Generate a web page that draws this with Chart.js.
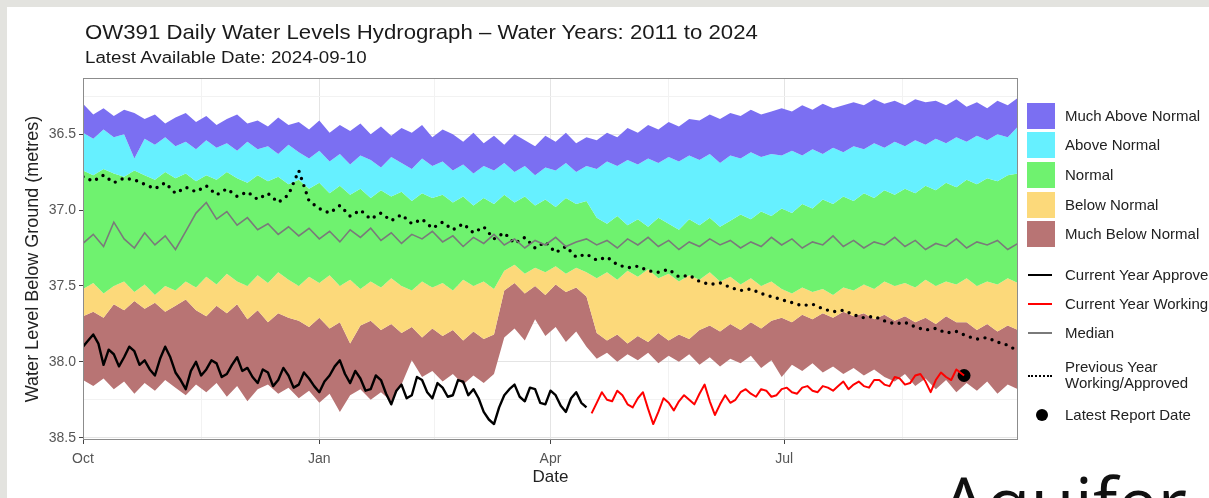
<!DOCTYPE html>
<html lang="en">
<head>
<meta charset="UTF-8">
<title>OW391 Daily Water Levels Hydrograph</title>
<script src="https://cdn.jsdelivr.net/npm/chart.js"></script>
<style>
  body { margin: 0; width: 1209px; height: 498px; overflow: hidden; background: #fff; position: relative;
         font-family: "Liberation Sans", Arial, sans-serif; color: #1a1a1a; }
  .edge-top { position: absolute; left: 0; top: 0; width: 1209px; height: 7px; background: #e3e3df; }
  .edge-left { position: absolute; left: 0; top: 0; width: 7px; height: 498px; background: #e3e3df; }
  #chart { position: absolute; left: 0; top: 0; }
  .title { position: absolute; left: 85px; top: 20px; font-size: 21px; line-height: 24px; white-space: nowrap;
           transform: scaleX(1.057); transform-origin: left top; }
  .subtitle { position: absolute; left: 85px; top: 49px; font-size: 16px; line-height: 18px; white-space: nowrap;
              transform: scaleX(1.17); transform-origin: left top; }
  .key { position: absolute; }
  .lab { position: absolute; left: 1065px; font-size: 15px; line-height: 16px; white-space: nowrap; color: #222; }
  .aquifer { position: absolute; left: 941px; top: 465px; font-family: "Open Sans", sans-serif; font-size: 72px;
             line-height: 72px; color: #111; white-space: nowrap; }
</style>
</head>
<body>
<div class="edge-top"></div>
<div class="edge-left"></div>
<canvas id="chart" width="1209" height="498"></canvas>

<div class="title">OW391 Daily Water Levels Hydrograph – Water Years: 2011 to 2024</div>
<div class="subtitle">Latest Available Date: 2024-09-10</div>

<div class="key" style="left:1027px;top:103px;width:28px;height:26px;background:#7b6ff2"></div>
<div class="key" style="left:1027px;top:132px;width:28px;height:26px;background:#66f0ff"></div>
<div class="key" style="left:1027px;top:162px;width:28px;height:26px;background:#6ff26f"></div>
<div class="key" style="left:1027px;top:192px;width:28px;height:26px;background:#fcd97a"></div>
<div class="key" style="left:1027px;top:221px;width:28px;height:26px;background:#b87474"></div>
<div class="lab" style="top:108px">Much Above Normal</div>
<div class="lab" style="top:137px">Above Normal</div>
<div class="lab" style="top:167px">Normal</div>
<div class="lab" style="top:197px">Below Normal</div>
<div class="lab" style="top:226px">Much Below Normal</div>

<div class="key" style="left:1028px;top:274px;width:24px;height:2px;background:#000"></div>
<div class="key" style="left:1028px;top:303px;width:24px;height:2px;background:#f00"></div>
<div class="key" style="left:1028px;top:332px;width:24px;height:2px;background:#7a7a7a"></div>
<div class="key" style="left:1028px;top:375px;width:24px;height:2px;border-top:2px dotted #000"></div>
<div class="key" style="left:1036px;top:409px;width:12px;height:12px;border-radius:50%;background:#000"></div>
<div class="lab" style="top:267px">Current Year Approved</div>
<div class="lab" style="top:296px">Current Year Working</div>
<div class="lab" style="top:325px">Median</div>
<div class="lab" style="top:359px">Previous Year</div>
<div class="lab" style="top:375px">Working/Approved</div>
<div class="lab" style="top:407px">Latest Report Date</div>

<div class="aquifer">Aquifer</div>

<script>
// day of water year (0 = Oct 1)
const days = [0,4,8,12,16,20,24,28,32,36,40,44,48,52,56,60,64,68,72,76,80,84,88,92,96,100,104,108,112,116,
  120,124,128,132,136,140,144,148,152,156,160,164,168,172,176,180,184,188,192,196,200,204,208,212,216,220,224,
  228,232,236,240,244,248,252,256,260,264,268,272,276,280,284,288,292,296,300,304,308,312,316,320,324,328,332,
  336,340,344,348,352,356,360,364];

// band edges, metres below ground (min -> max)
const bandMin = [36.30,36.37,36.33,36.38,36.34,36.36,36.40,36.37,36.43,36.39,36.36,36.42,36.38,36.44,36.40,36.37,
  36.43,36.41,36.45,36.39,36.44,36.42,36.47,36.41,36.49,36.44,36.48,36.43,36.50,36.45,36.51,36.46,36.49,36.44,36.52,
  36.47,36.50,36.55,36.49,36.56,36.51,36.57,36.50,36.54,36.58,36.51,36.55,36.49,36.56,36.52,36.54,36.49,36.52,36.46,
  36.49,36.44,36.47,36.42,36.45,36.40,36.41,36.37,36.40,36.36,36.38,36.34,36.37,36.35,36.33,36.35,36.31,36.34,36.30,
  36.33,36.31,36.29,36.31,36.27,36.30,36.28,36.31,36.27,36.29,36.28,36.31,36.27,36.32,36.29,36.33,36.28,36.31,36.26];
const bandP10 = [36.49,36.53,36.47,36.52,36.50,36.66,36.53,36.57,36.52,36.58,36.55,36.60,36.54,36.59,36.56,36.61,
  36.55,36.60,36.58,36.63,36.57,36.62,36.66,36.61,36.68,36.63,36.70,36.64,36.67,36.72,36.65,36.69,36.73,36.66,36.71,
  36.68,36.74,36.70,36.76,36.71,36.74,36.69,36.75,36.71,36.77,36.72,36.74,36.69,36.75,36.71,36.73,36.68,36.71,36.67,
  36.70,36.66,36.69,36.65,36.68,36.64,36.67,36.63,36.69,36.64,36.66,36.62,36.65,36.63,36.64,36.61,36.64,36.60,36.63,
  36.59,36.62,36.58,36.60,36.56,36.59,36.55,36.58,36.54,36.57,36.53,36.56,36.52,36.55,36.51,36.54,36.50,36.52,36.45];
const bandP25 = [36.74,36.77,36.73,36.76,36.78,36.74,36.77,36.80,36.75,36.79,36.76,36.81,36.77,36.80,36.75,36.79,
  36.82,36.77,36.81,36.78,36.83,36.80,36.86,36.82,36.89,36.84,36.90,36.86,36.92,36.87,36.91,36.88,36.94,36.89,36.92,
  36.90,36.95,36.91,36.97,36.92,36.96,36.90,36.95,36.91,36.97,36.93,36.98,36.92,36.96,36.94,37.05,37.09,37.04,37.10,
  37.06,37.11,37.05,37.09,37.13,37.06,37.10,37.05,37.11,37.07,37.03,37.06,37.01,37.04,36.99,37.02,36.96,36.99,36.93,
  36.96,36.91,36.94,36.89,36.92,36.87,36.90,36.86,36.89,36.84,36.87,36.82,36.85,36.80,36.83,36.79,36.81,36.77,36.76];
const bandP75 = [37.52,37.48,37.55,37.50,37.47,37.54,37.49,37.56,37.50,37.53,37.47,37.51,37.44,37.49,37.42,37.47,
  37.50,37.43,37.48,37.41,37.46,37.50,37.44,37.48,37.43,37.50,37.46,37.52,37.47,37.51,37.45,37.50,37.53,37.47,37.51,
  37.48,37.53,37.46,37.50,37.47,37.52,37.40,37.36,37.42,37.38,37.41,37.37,37.42,37.38,37.41,37.45,37.41,37.46,37.40,
  37.44,37.39,37.45,37.42,37.47,37.43,37.46,37.41,37.47,37.44,37.49,37.45,37.50,37.47,37.52,37.55,37.51,37.54,37.52,
  37.56,37.51,37.53,37.49,37.52,37.47,37.50,37.48,37.51,37.46,37.50,37.47,37.49,37.45,37.50,37.47,37.49,37.45,37.48];
const bandP90 = [37.70,37.67,37.71,37.62,37.66,37.60,37.65,37.61,37.67,37.63,37.59,37.66,37.70,37.63,37.68,37.62,
  37.72,37.66,37.74,37.68,37.71,37.73,37.77,37.71,37.78,37.74,37.88,37.76,37.73,37.79,37.75,37.81,37.77,37.84,37.78,
  37.83,37.79,37.86,37.80,37.85,37.82,37.53,37.48,37.55,37.50,37.56,37.49,37.54,37.51,37.57,37.81,37.86,37.82,37.88,
  37.83,37.87,37.81,37.86,37.82,37.85,37.79,37.76,37.80,37.75,37.79,37.74,37.78,37.73,37.71,37.74,37.69,37.72,37.68,
  37.71,37.67,37.70,37.68,37.72,37.69,37.73,37.70,37.74,37.71,37.75,37.70,37.74,37.74,37.79,37.75,37.80,37.76,37.79];
const bandMax = [38.12,38.16,38.11,38.18,38.13,38.21,38.14,38.19,38.12,38.17,38.22,38.15,38.20,38.14,38.23,38.16,
  38.26,38.18,38.15,38.21,38.17,38.24,38.19,38.27,38.21,38.33,38.22,38.18,38.25,38.20,38.26,38.15,37.99,38.10,38.06,
  38.13,38.08,38.15,38.09,38.14,38.08,37.84,37.78,37.86,37.72,37.83,37.77,37.87,37.80,37.90,37.98,37.94,38.00,37.95,
  37.99,37.94,38.01,37.96,38.00,37.95,38.02,37.97,38.03,37.98,38.01,37.96,38.04,37.99,38.10,38.02,38.06,38.01,38.07,
  38.03,38.08,38.04,38.09,38.05,38.10,38.13,38.08,38.16,38.11,38.18,38.12,38.20,38.14,38.19,38.13,38.21,38.15,38.18];

const medianLevel = [37.22,37.16,37.24,37.08,37.19,37.25,37.15,37.23,37.17,37.26,37.14,37.02,36.95,37.06,37.01,37.10,
  37.05,37.13,37.09,37.16,37.11,37.17,37.12,37.19,37.14,37.21,37.13,37.18,37.12,37.20,37.15,37.22,37.16,37.19,37.14,
  37.21,37.17,37.24,37.18,37.22,37.16,37.23,37.19,37.25,37.20,37.23,37.18,37.24,37.21,37.19,37.23,37.20,37.25,37.19,
  37.23,37.18,37.24,37.20,37.26,37.21,37.24,37.19,37.23,37.20,37.25,37.21,37.24,37.18,37.23,37.19,37.25,37.21,37.23,
  37.17,37.24,37.20,37.25,37.21,37.23,37.18,37.24,37.20,37.26,37.22,37.24,37.19,37.25,37.21,37.23,37.20,37.26,37.22];
const previousYear = [36.78,36.81,36.77,36.82,36.79,36.80,36.83,36.86,36.82,36.89,36.85,36.88,36.84,36.90,36.86,36.91,
  36.88,36.93,36.89,36.95,36.90,36.74,36.94,36.99,37.02,36.97,37.04,37.00,37.06,37.02,37.07,37.03,37.09,37.06,37.12,
  37.08,37.13,37.09,37.15,37.11,37.19,37.15,37.22,37.18,37.25,37.21,37.28,37.24,37.31,37.29,37.33,37.31,37.36,37.38,
  37.37,37.40,37.41,37.39,37.44,37.43,37.47,37.49,37.48,37.51,37.53,37.52,37.55,37.57,37.59,37.61,37.63,37.62,37.65,
  37.67,37.66,37.69,37.71,37.70,37.73,37.75,37.74,37.77,37.79,37.78,37.81,37.80,37.83,37.85,37.84,37.87,37.89,37.93];

// current water year, every second day
const approvedDays = [0,2,4,6,8,10,12,14,16,18,20,22,24,26,28,30,32,34,36,38,40,42,44,46,48,50,52,54,56,58,
  60,62,64,66,68,70,72,74,76,78,80,82,84,86,88,90,92,94,96,98,100,102,104,106,108,110,112,114,116,118,
  120,122,124,126,128,130,132,134,136,138,140,142,144,146,148,150,152,154,156,158,160,162,164,166,168,170,
  172,174,176,178,180,182,184,186,188,190,192,194,196];
const approvedLevel = [37.90,37.86,37.82,37.88,38.02,37.92,37.95,38.03,37.97,37.90,
  37.93,38.02,37.99,38.05,38.09,37.98,37.90,37.97,38.07,38.12,
  38.18,38.06,38.00,38.09,38.05,37.99,38.01,38.10,38.08,38.02,
  37.97,38.06,38.04,38.10,38.14,38.05,38.07,38.16,38.12,38.04,
  38.09,38.17,38.15,38.07,38.11,38.16,38.20,38.13,38.09,38.03,
  37.99,38.08,38.14,38.06,38.11,38.19,38.18,38.09,38.12,38.21,
  38.28,38.19,38.15,38.24,38.22,38.10,38.12,38.20,38.24,38.14,
  38.17,38.23,38.22,38.12,38.13,38.22,38.18,38.24,38.33,38.38,
  38.41,38.30,38.22,38.18,38.15,38.23,38.26,38.17,38.18,38.27,
  38.28,38.19,38.22,38.29,38.33,38.24,38.20,38.27,38.30];
const workingDays = [198,200,202,204,206,208,210,212,214,216,218,220,222,224,226,228,230,232,234,236,
  238,240,242,244,246,248,250,252,254,256,258,260,262,264,266,268,270,272,274,276,278,280,282,284,286,288,
  290,292,294,296,298,300,302,304,306,308,310,312,314,316,318,320,322,324,326,328,330,332,334,336,338,340,343];
const workingLevel = [38.34,38.27,38.20,38.25,38.26,38.19,38.22,38.28,38.30,38.24,
  38.20,38.31,38.41,38.33,38.24,38.27,38.32,38.26,38.22,38.25,
  38.28,38.21,38.15,38.26,38.35,38.28,38.22,38.27,38.25,38.20,
  38.18,38.21,38.23,38.18,38.19,38.23,38.22,38.18,38.17,38.20,
  38.21,38.17,38.16,38.19,38.20,38.16,38.17,38.19,38.16,38.13,
  38.18,38.15,38.13,38.16,38.17,38.12,38.12,38.15,38.16,38.10,
  38.11,38.15,38.14,38.09,38.08,38.13,38.20,38.12,38.07,38.10,
  38.12,38.05,38.09];
const latestDay = [343];
const latestLevel = [38.09];

const bandNames = ['Much Above Normal', 'Above Normal', 'Normal', 'Below Normal', 'Much Below Normal'];
const bandColors = ['#7b6ff2', '#66f0ff', '#6ff26f', '#fcd97a', '#b87474'];

const monthTicks = [0, 92, 182, 273];
const monthLabels = ['Oct', 'Jan', 'Apr', 'Jul'];
const minorDayTicks = [46, 137, 228, 319];
const levelTicks = [36.5, 37.0, 37.5, 38.0, 38.5];
const minorLevelTicks = [36.25, 36.75, 37.25, 37.75, 38.25];

function pts(xs, ys) {
  return ys.map((y, i) => ({ x: xs[i], y: y }));
}

const edges = [bandMin, bandP10, bandP25, bandP75, bandP90, bandMax];
const datasets = [];
edges.forEach((edge, k) => {
  datasets.push({
    label: k === 0 ? 'min' : bandNames[k - 1],
    data: pts(days, edge),
    borderColor: 'transparent',
    borderWidth: 0,
    backgroundColor: k === 0 ? 'transparent' : bandColors[k - 1],
    fill: k === 0 ? false : '-1',
    pointRadius: 0,
    order: 2
  });
});
datasets.push({
  label: 'Median', data: pts(days, medianLevel), borderColor: '#7a7a7a', borderWidth: 1.6,
  pointRadius: 0, fill: false, order: 1
});
datasets.push({
  label: 'Previous Year Working/Approved', data: pts(days, previousYear), borderColor: '#000', borderWidth: 3.4,
  borderDash: [0, 7.5], borderCapStyle: 'round', pointRadius: 0, fill: false, order: 1
});
datasets.push({
  label: 'Current Year Approved', data: pts(approvedDays, approvedLevel), borderColor: '#000', borderWidth: 2.4,
  borderJoinStyle: 'round', pointRadius: 0, fill: false, order: 0
});
datasets.push({
  label: 'Current Year Working', data: pts(workingDays, workingLevel), borderColor: '#ff0000', borderWidth: 2,
  borderJoinStyle: 'round', pointRadius: 0, fill: false, order: 0
});
datasets.push({
  label: 'Latest Report Date', data: pts(latestDay, latestLevel), showLine: false, pointRadius: 6.5,
  pointBackgroundColor: '#000', pointBorderWidth: 0, order: 0
});

// ggplot-style panel border
const panelBorder = {
  id: 'panelBorder',
  afterDraw(chart) {
    const { ctx, chartArea: a } = chart;
    ctx.save();
    ctx.strokeStyle = '#8c8c8c';
    ctx.lineWidth = 1;
    ctx.strokeRect(a.left + 0.5, a.top + 0.5, a.right - a.left - 1, a.bottom - a.top - 1);
    ctx.restore();
  }
};

Chart.defaults.font.family = '"Liberation Sans", Arial, sans-serif';

new Chart(document.getElementById('chart'), {
  type: 'line',
  data: { datasets: datasets },
  options: {
    responsive: false,
    animation: false,
    events: [],
    layout: { padding: { left: 0, top: 78, right: 191, bottom: 0 } },
    plugins: { legend: { display: false }, tooltip: { enabled: false } },
    scales: {
      x: {
        type: 'linear', min: 0, max: 364,
        afterBuildTicks: ax => { ax.ticks = monthTicks.concat(minorDayTicks).sort((a, b) => a - b).map(v => ({ value: v })); },
        afterFit: ax => { ax.height = 58; },
        grid: {
          color: c => monthTicks.includes(c.tick.value) ? '#e4e4e4' : '#f2f2f2',
          tickColor: c => monthTicks.includes(c.tick.value) ? '#444' : 'rgba(0,0,0,0)',
          tickLength: 4
        },
        border: { display: false },
        ticks: {
          autoSkip: false, maxRotation: 0, padding: 7, color: '#555', font: { size: 14 },
          callback: v => { const i = monthTicks.indexOf(v); return i >= 0 ? monthLabels[i] : ''; }
        },
        title: { display: true, text: 'Date', color: '#222', font: { size: 17 }, padding: { bottom: 10 } }
      },
      y: {
        type: 'linear', reverse: true, min: 36.13, max: 38.515,
        afterBuildTicks: ax => { ax.ticks = levelTicks.concat(minorLevelTicks).sort((a, b) => a - b).map(v => ({ value: v })); },
        afterFit: ax => { ax.width = 83; },
        grid: {
          color: c => levelTicks.includes(c.tick.value) ? '#e4e4e4' : '#f2f2f2',
          tickColor: c => levelTicks.includes(c.tick.value) ? '#444' : 'rgba(0,0,0,0)',
          tickLength: 4
        },
        border: { display: false },
        ticks: {
          autoSkip: false, padding: 3, color: '#555', font: { size: 14 },
          callback: v => levelTicks.includes(v) ? v.toFixed(1) : ''
        },
        title: { display: true, text: 'Water Level Below Ground (metres)', color: '#222', font: { size: 18 }, padding: { top: 22 } }
      }
    }
  },
  plugins: [panelBorder]
});
</script>
</body>
</html>
